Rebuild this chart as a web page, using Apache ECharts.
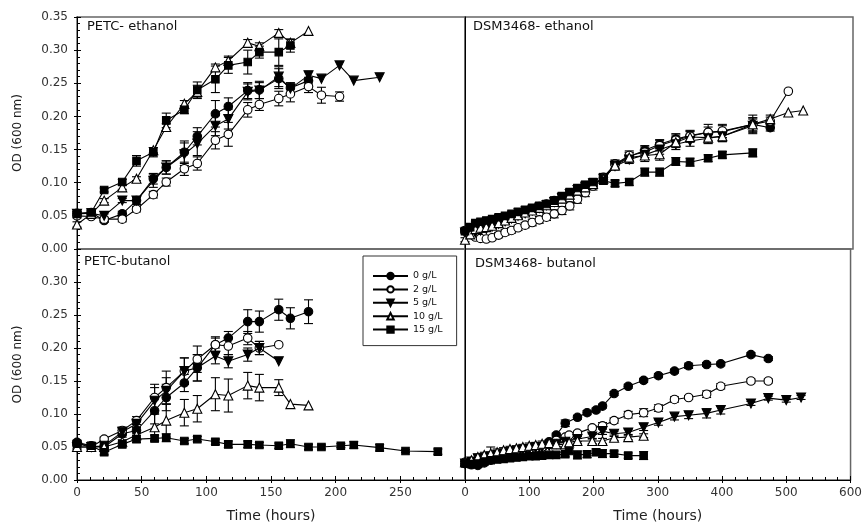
<!DOCTYPE html>
<html><head><meta charset="utf-8">
<script src="https://cdn.jsdelivr.net/npm/echarts@6/dist/echarts.min.js"></script>
<style>html,body{margin:0;padding:0;background:#fff}#c{width:865px;height:524px}</style>
</head><body><div id="c"></div>
<script>
// ---------- DATA ----------
const seriesNames = ['0 g/L', '2 g/L', '5 g/L', '10 g/L', '15 g/L'];
const panelTitles = ['PETC- ethanol', 'DSM3468- ethanol', 'PETC-butanol', 'DSM3468- butanol'];

// PETC - ethanol
const tPE = [0, 11, 21, 35, 46, 59, 69, 83, 93, 107, 117, 132, 141, 156, 165, 179, 189, 203, 214, 234];
const pe0 = [0.054,0.055,0.043,0.053,0.073,0.106,0.123,0.146,0.170,0.204,0.215,0.239,0.240,0.257,0.243,0.254];
const pe2 = [0.050,0.049,0.045,0.045,0.060,0.082,0.101,0.121,0.129,0.164,0.173,0.210,0.218,0.227,0.234,0.245,0.232,0.230];
const pe5 = [0.053,0.054,0.050,0.073,0.073,0.103,0.123,0.143,0.159,0.186,0.196,0.237,0.239,0.260,0.242,0.262,0.257,0.277,0.254,0.259];
const pe10 = [0.037,0.053,0.073,0.093,0.106,0.149,0.184,0.219,0.237,0.274,0.284,0.311,0.306,0.326,0.311,0.329];
const pe15 = [0.053,0.055,0.089,0.101,0.133,0.146,0.194,0.210,0.240,0.256,0.277,0.282,0.297,0.297,0.307];
const pe0e = [0.003,0.003,0.003,0.004,0.006,0.008,0.010,0.017,0.013,0.020,0.013,0.012,0.013,0.015,0.008,0.005];
const pe2e = [0.003,0.003,0.003,0.004,0.004,0.005,0.006,0.010,0.010,0.013,0.018,0.011,0.009,0.011,0.012,0.009,0.012,0.007];
const pe5e = [0.003,0.003,0.003,0.003,0.005,0.010,0.010,0.017,0.018,0.015,0.015,0.012,0.012,0.015,0.008,0.006,0,0,0,0];
const pe10e = [0.004,0.003,0.003,0.003,0.003,0.004,0.005,0.005,0.010,0.005,0.007,0.005,0.005,0.005,0.005,0];
const pe15e = [0.003,0.003,0.003,0.004,0.008,0.007,0.011,0.006,0.012,0.020,0.012,0.018,0.009,0.020,0.010];

// DSM3468 - ethanol
const tDE = [0,8,16,24,33,42,52,62,72,82,93,104,115,126,138,150,162,174,186,198,214,232,254,278,301,326,348,376,398,445,472,500,523];
const de0 = [0.028,0.026,0.027,0.030,0.033,0.036,0.040,0.044,0.048,0.052,0.056,0.060,0.064,0.068,0.073,0.078,0.084,0.090,0.094,0.099,0.105,0.128,0.139,0.149,0.158,0.166,0.171,0.176,0.177,0.188,0.183];
const de2 = [0.027,0.022,0.018,0.016,0.015,0.017,0.021,0.025,0.028,0.032,0.036,0.040,0.044,0.048,0.053,0.058,0.065,0.075,0.085,0.095,0.108,0.128,0.141,0.146,0.156,0.164,0.170,0.176,0.178,0.188,0.193,0.238];
const de5 = [0.025,0.024,0.025,0.028,0.030,0.034,0.038,0.042,0.046,0.050,0.054,0.058,0.062,0.066,0.071,0.077,0.083,0.089,0.094,0.099,0.106,0.125,0.135,0.142,0.150,0.158,0.163,0.167,0.170,0.186];
const de10 = [0.014,0.022,0.030,0.032,0.033,0.035,0.039,0.043,0.047,0.051,0.055,0.058,0.062,0.066,0.071,0.076,0.082,0.088,0.093,0.098,0.106,0.126,0.138,0.141,0.143,0.161,0.169,0.168,0.170,0.188,0.196,0.206,0.209];
const de15 = [0.027,0.033,0.039,0.041,0.043,0.045,0.048,0.050,0.053,0.056,0.059,0.062,0.065,0.068,0.073,0.080,0.086,0.092,0.097,0.101,0.103,0.099,0.101,0.116,0.116,0.132,0.131,0.137,0.142,0.145];
const de0e = [0.002,0.002,0.002,0.003,0.003,0.003,0.004,0.004,0.004,0.005,0.005,0.005,0.005,0.005,0.005,0.005,0.005,0.005,0.005,0.005,0.005,0.006,0.006,0.007,0.007,0.008,0.008,0.008,0.009,0.010,0.005];
const de2e = [0.002,0.003,0.003,0.003,0.003,0.003,0.004,0.004,0.004,0.004,0.004,0.005,0.005,0.005,0.006,0.006,0.006,0.006,0.006,0.006,0.006,0.006,0.007,0.008,0.008,0.008,0.008,0.012,0.010,0.010,0.006,0];
const de5e = [0.002,0.002,0.002,0.003,0.003,0.003,0.004,0.004,0.004,0.004,0.004,0.005,0.005,0.005,0.005,0.005,0.005,0.005,0.005,0.005,0.005,0.006,0.006,0.007,0.007,0.008,0.008,0.008,0.008,0.010];
const de10e = [0.003,0.003,0.003,0.004,0.004,0.004,0.004,0.004,0.004,0.005,0.005,0.005,0.005,0.005,0.006,0.006,0.006,0.006,0.006,0.006,0.006,0.006,0.008,0.009,0.009,0.008,0.008,0.008,0.008,0.014,0.006,0,0];
const de15e = [0.003,0.003,0.003,0.004,0.004,0.004,0.004,0.004,0.004,0.005,0.005,0.005,0.005,0.005,0.005,0.005,0.005,0.005,0.005,0.005,0.005,0.005,0.005,0.006,0.006,0.006,0.006,0.005,0.005,0.006];

// PETC - butanol
const tPB = [0, 11, 21, 35, 46, 60, 69, 83, 93, 107, 117, 132, 141, 156, 165, 179, 189, 204, 214, 234, 254, 279];
const pb0 = [0.057,0.052,0.050,0.070,0.075,0.105,0.125,0.147,0.170,0.205,0.215,0.240,0.240,0.258,0.245,0.255];
const pb2 = [0.055,0.050,0.062,0.075,0.090,0.125,0.140,0.165,0.183,0.205,0.203,0.215,0.200,0.205];
const pb5 = [0.050,0.050,0.052,0.073,0.085,0.120,0.135,0.165,0.170,0.188,0.180,0.190,0.200,0.180];
const pb10 = [0.050,0.050,0.050,0.058,0.068,0.080,0.090,0.102,0.108,0.130,0.128,0.143,0.140,0.140,0.115,0.113];
const pb15 = [0.055,0.052,0.042,0.054,0.062,0.063,0.064,0.059,0.062,0.058,0.054,0.054,0.053,0.052,0.055,0.050,0.050,0.052,0.053,0.049,0.044,0.043];
const pb0e = [0.003,0.003,0.003,0.005,0.005,0.020,0.020,0.013,0.020,0.010,0.010,0.018,0.016,0.016,0.016,0.018];
const pb2e = [0.003,0.003,0.003,0.005,0.006,0.020,0.025,0.020,0.020,0.012,0.013,0.010,0.010,0];
const pb5e = [0.003,0.003,0.003,0.005,0.005,0.020,0.020,0.020,0.020,0.012,0.010,0.010,0.010,0];
const pb10e = [0.003,0.003,0.003,0.003,0.005,0.020,0.025,0.020,0.020,0.025,0.025,0.020,0.020,0.012,0,0];
const pb15e = [0.004,0.004,0.004,0.004,0.005,0.005,0.006,0.004,0.004,0.004,0.005,0.005,0.004,0.004,0.006,0.004,0.003,0.003,0.005,0.005,0.002,0.004];

// DSM3468 - butanol
const tDB = [0,10,20,30,40,50,60,70,80,90,100,110,120,131,142,156,162,175,190,198,204,214,232,254,278,301,326,348,376,398,445,472,500,523];
const db0 = [0.025,0.023,0.022,0.026,0.030,0.033,0.036,0.038,0.040,0.042,0.044,0.046,0.050,0.058,0.068,0.086,null,0.095,0.102,null,0.106,0.112,0.131,0.142,0.151,0.158,0.165,0.173,0.175,0.176,0.190,0.184];
const db2 = [0.027,0.025,0.027,0.030,0.032,0.035,0.038,0.041,0.043,0.045,0.047,0.049,0.050,0.054,0.060,0.065,0.068,0.071,null,0.079,null,0.082,0.090,0.099,0.102,0.109,0.122,0.125,0.130,0.142,0.150,0.150];
const db5 = [0.025,0.028,0.033,0.033,0.036,0.038,0.040,0.042,0.044,0.046,0.047,0.049,0.050,0.052,0.055,0.058,null,0.062,null,0.066,null,0.074,0.070,0.072,0.080,0.087,0.096,0.098,0.101,0.106,0.116,0.124,0.121,0.125];
const db10 = [0.027,0.030,0.035,0.038,0.040,0.042,0.045,0.047,0.048,0.050,0.052,0.053,0.055,0.056,0.054,0.054,0.057,0.059,null,0.059,null,0.059,0.064,0.065,0.067];
const db15 = [0.025,0.024,0.025,0.028,0.030,0.031,0.032,0.033,0.034,0.035,0.036,0.036,0.037,0.038,0.038,0.039,0.044,0.038,0.039,null,0.042,0.040,0.040,0.037,0.037];
const db0e = [0.003,0.003,0.003,0.003,0.003,0.003,0.003,0.003,0.003,0.003,0.003,0.003,0.003,0.003,0.003,0.005,0,0.003,0.003,0,0.003,0.003,0.003,0.003,0.003,0.003,0.003,0.004,0.003,0.003,0.003,0.003];
const db2e = [0.003,0.003,0.003,0.003,0.003,0.003,0.003,0.003,0.003,0.003,0.003,0.003,0.003,0.003,0.003,0.003,0.003,0.003,0,0.003,0,0.005,0.004,0.005,0.006,0.005,0.004,0.003,0.005,0.004,0.003,0.003];
const db5e = [0.003,0.004,0.005,0.004,0.004,0.004,0.004,0.004,0.004,0.004,0.004,0.004,0.004,0.004,0.004,0.004,0,0.004,0,0.004,0,0.005,0.004,0.005,0.005,0.004,0.005,0.005,0.007,0.006,0.003,0.003,0.003,0.003];
const db10e = [0.003,0.004,0.004,0.004,0.010,0.005,0.004,0.004,0.004,0.004,0.004,0.004,0.004,0.004,0.004,0.004,0.004,0.004,0,0.004,0,0.004,0.004,0.004,0.003];
const db15e = [0.003,0.003,0.003,0.003,0.003,0.003,0.004,0.004,0.004,0.004,0.004,0.004,0.004,0.004,0.004,0.004,0.004,0.006,0.005,0,0.005,0.006,0.004,0.004,0.006];

// ---------- BUILD ----------
const panels = [
  {t: tPE, v: [pe0, pe2, pe5, pe10, pe15], e: [pe0e, pe2e, pe5e, pe10e, pe15e]},
  {t: tDE, v: [de0, de2, de5, de10, de15], e: [de0e, de2e, de5e, de10e, de15e]},
  {t: tPB, v: [pb0, pb2, pb5, pb10, pb15], e: [pb0e, pb2e, pb5e, pb10e, pb15e]},
  {t: tDB, v: [db0, db2, db5, db10, db15], e: [db0e, db2e, db5e, db10e, db15e]}
];
const symbols = [
  {symbol: 'circle', size: 8.5, fill: '#000', rot: 0},
  {symbol: 'circle', size: 8.5, fill: '#fff', rot: 0},
  {symbol: 'triangle', size: 9, fill: '#000', rot: 180},
  {symbol: 'triangle', size: 9, fill: '#fff', rot: 0},
  {symbol: 'rect', size: 7.5, fill: '#000', rot: 0}
];
const FONT = '"DejaVu Sans", Arial, sans-serif';
const gridPos = [
  {left: 77, top: 17}, {left: 465, top: 17}, {left: 77, top: 249}, {left: 465, top: 249}
];
const grids = gridPos.map(g => ({left: g.left, top: g.top, width: 388, height: 232,
  show: true, borderColor: '#666', borderWidth: 1.5, backgroundColor: 'transparent'}));

const xMax = [300, 600, 300, 600];
const xInt = [50, 100, 50, 100];
const xAxes = [];
const yAxes = [];
for (let i = 0; i < 4; i++) {
  const bottom = i >= 2;
  xAxes.push({
    type: 'value', gridIndex: i, min: 0, max: xMax[i], interval: xInt[i], position: 'bottom',
    axisLine: {show: bottom, lineStyle: {color: '#000', width: 1}},
    axisTick: {show: bottom, inside: true, length: 4, lineStyle: {color: '#000'}},
    minorTick: {show: bottom, splitNumber: 5, length: 3, lineStyle: {color: '#000'}},
    axisLabel: {show: bottom, showMaxLabel: i === 3, color: '#333', fontSize: 12, fontFamily: FONT, margin: 7},
    splitLine: {show: false},
    name: bottom ? 'Time (hours)' : '', nameLocation: 'middle', nameGap: 29,
    nameTextStyle: {color: '#222', fontSize: 14, fontFamily: FONT}
  });
  const left = (i % 2) === 0;
  yAxes.push({
    type: 'value', gridIndex: i, min: 0, max: 0.35, interval: 0.05, position: 'left',
    axisLine: {show: true, lineStyle: {color: '#000', width: 1}},
    axisTick: {show: left, inside: true, length: 4, lineStyle: {color: '#000'}},
    minorTick: {show: left, splitNumber: 5, length: 3, lineStyle: {color: '#000'}},
    axisLabel: {show: left, showMaxLabel: i === 0, color: '#333', fontSize: 12, fontFamily: FONT, margin: 9,
      formatter: v => v.toFixed(2)},
    splitLine: {show: false},
    name: left ? 'OD (600 nm)' : '', nameLocation: 'middle', nameGap: 53,
    nameTextStyle: {color: '#222', fontSize: 12, fontFamily: FONT}
  });
}
// outward half of the crossing major ticks
[2, 3].forEach(i => xAxes.push({
  type: 'value', gridIndex: i, min: 0, max: xMax[i], interval: xInt[i], position: 'bottom',
  axisLine: {show: false}, axisTick: {show: true, inside: false, length: 3, lineStyle: {color: '#000'}},
  axisLabel: {show: false}, splitLine: {show: false}
}));
[0, 2].forEach(i => yAxes.push({
  type: 'value', gridIndex: i, min: 0, max: 0.35, interval: 0.05, position: 'left',
  axisLine: {show: false}, axisTick: {show: true, inside: false, length: 3, lineStyle: {color: '#000'}},
  axisLabel: {show: false}, splitLine: {show: false}
}));

function renderErr(params, api) {
  const x = api.value(0), y = api.value(1), e = api.value(2);
  if (!e) return null;
  const p1 = api.coord([x, y + e]), p2 = api.coord([x, y - e]);
  const w = 4.5;
  const st = {stroke: '#000', lineWidth: 1.1};
  return {type: 'group', children: [
    {type: 'line', shape: {x1: p1[0], y1: p1[1], x2: p2[0], y2: p2[1]}, style: st},
    {type: 'line', shape: {x1: p1[0] - w, y1: p1[1], x2: p1[0] + w, y2: p1[1]}, style: st},
    {type: 'line', shape: {x1: p2[0] - w, y1: p2[1], x2: p2[0] + w, y2: p2[1]}, style: st}
  ]};
}

const series = [];
panels.forEach((p, pi) => {
  p.v.forEach((vals, si) => {
    const pts = p.t.map((t, k) => [t, vals[k]]).filter(d => d[1] != null && d[1] !== undefined);
    const errs = p.t.map((t, k) => [t, vals[k], p.e[si][k] || 0]).filter(d => d[1] != null && d[1] !== undefined);
    const s = symbols[si];
    series.push({
      type: 'custom', xAxisIndex: pi, yAxisIndex: pi, renderItem: renderErr,
      data: errs, encode: {x: 0, y: 1}, z: 2, silent: true
    });
    series.push({
      name: seriesNames[si], type: 'line', xAxisIndex: pi, yAxisIndex: pi,
      data: pts, symbol: s.symbol, symbolSize: s.size, symbolRotate: s.rot, showAllSymbol: true,
      lineStyle: {color: '#000', width: 1.1},
      itemStyle: {color: s.fill, borderColor: '#000', borderWidth: 1.1},
      z: 3 + si * 0.1, animation: false
    });
  });
});

const titlePos = [[87, 20], [473, 20], [84, 255], [475, 257]];
const graphics = panelTitles.map((txt, i) => ({
  type: 'text', left: titlePos[i][0], top: titlePos[i][1],
  style: {text: txt, fill: '#111', font: '13px ' + FONT}
}));

const chart = echarts.init(document.getElementById('c'), null, {renderer: 'canvas'});
chart.setOption({
  animation: false,
  backgroundColor: '#fff',
  grid: grids,
  xAxis: xAxes,
  yAxis: yAxes,
  legend: {
    data: seriesNames, orient: 'vertical', left: 363, top: 256,
    itemWidth: 35, itemHeight: 8, itemGap: 3.4, selectedMode: false,
    padding: [15, 14, 11, 9], borderColor: '#333', borderWidth: 1, backgroundColor: '#fff',
    textStyle: {color: '#111', fontSize: 9.5, lineHeight: 8, fontFamily: FONT}
  },
  graphic: graphics,
  series: series
});
</script></body></html>
